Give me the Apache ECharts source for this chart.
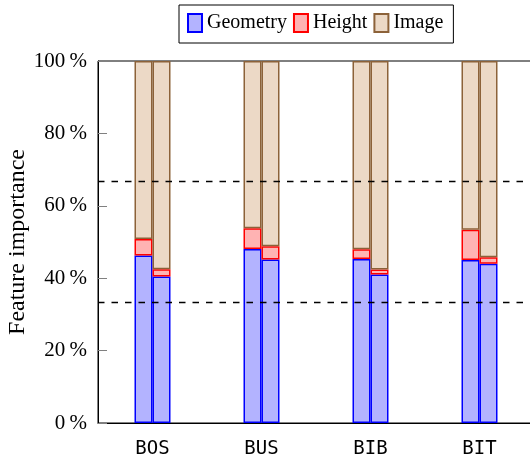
<!DOCTYPE html>
<html>
<head>
<meta charset="utf-8">
<script src="https://cdn.jsdelivr.net/npm/echarts@6/dist/echarts.min.js"></script>
<style>
  html, body { margin: 0; padding: 0; background: #fff; }
  #main { width: 530px; height: 462px; }
</style>
</head>
<body>
<div id="main"></div>
<script>
// groups on the x axis
var categories = ['BOS', 'BUS', 'BIB', 'BIT'];
// left bar of each group
var geometryA = [46.3, 48.1, 45.3, 45.0];
var heightA   = [4.5, 5.7, 2.7, 8.4];
var imageA    = [49.2, 46.2, 52.0, 46.6];
// right bar of each group
var geometryB = [40.5, 45.2, 41.0, 44.0];
var heightB   = [2.0, 3.6, 1.4, 1.8];
var imageB    = [57.5, 51.2, 57.6, 54.2];
// dashed reference lines
var refLines = [33.33, 66.67];

var serif = 'Liberation Serif';
var styles = {
    Geometry: { color: '#b3b3ff', borderColor: '#0000ff', borderWidth: 1.5 },
    Height:   { color: '#ffb3b3', borderColor: '#ff0000', borderWidth: 1.5 },
    Image:    { color: '#ecd9c6', borderColor: '#8c6239', borderWidth: 1.5 }
};

function bar(name, stack, data) {
    return {
        name: name,
        type: 'bar',
        stack: stack,
        data: data,
        barWidth: 18,
        barGap: '0%',
        itemStyle: styles[name]
    };
}

var series = [
    bar('Geometry', 'a', geometryA),
    bar('Height', 'a', heightA),
    bar('Image', 'a', imageA),
    bar('Geometry', 'b', geometryB),
    bar('Height', 'b', heightB),
    bar('Image', 'b', imageB)
];
series[5].markLine = {
    silent: true,
    symbol: 'none',
    label: { show: false },
    lineStyle: { color: '#000', type: [6.5, 7], width: 1.3 },
    data: refLines.map(function (v) { return { yAxis: v }; })
};

var chart = echarts.init(document.getElementById('main'));
chart.setOption({
    animation: false,
    backgroundColor: '#fff',
    legend: {
        data: ['Geometry', 'Height', 'Image'],
        left: 179,
        top: 5,
        icon: 'rect',
        itemWidth: 14,
        itemHeight: 18,
        itemGap: 6,
        padding: [8, 10, 10, 8],
        borderColor: '#000',
        borderWidth: 1,
        textStyle: { fontFamily: serif, fontSize: 20, color: '#000' }
    },
    grid: {
        left: 98, top: 61, right: -4, bottom: 39,
        outerBoundsMode: 'none',
        containLabel: false,
        show: true, borderColor: '#000', borderWidth: 1
    },
    xAxis: {
        type: 'category',
        data: categories,
        axisLine: { lineStyle: { color: '#000', width: 1 } },
        axisTick: { alignWithLabel: true, length: 10, lineStyle: { color: '#808080' } },
        axisLabel: { fontFamily: 'DejaVu Sans Mono', fontSize: 19, color: '#000', margin: 17 }
    },
    yAxis: {
        type: 'value',
        min: 0,
        max: 100,
        interval: 20,
        name: 'Feature importance',
        nameLocation: 'middle',
        nameGap: 68,
        nameMoveOverlap: false,
        nameTextStyle: { fontFamily: serif, fontSize: 24, color: '#000' },
        axisLine: { show: true, lineStyle: { color: '#000', width: 1 } },
        axisTick: { show: true, inside: true, length: 9, lineStyle: { color: '#808080' } },
        splitLine: { show: false },
        axisLabel: {
            fontFamily: serif, fontSize: 21, color: '#000', margin: 11,
            formatter: '{value}\u2009%'
        }
    },
    series: series
});
</script>
</body>
</html>
